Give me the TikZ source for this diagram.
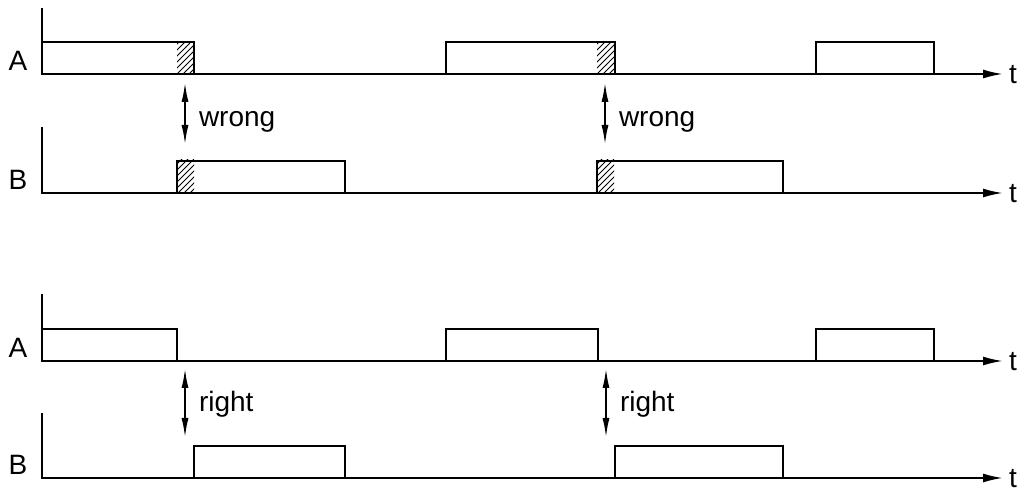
\documentclass[tikz,border=0pt]{standalone}
\usepackage{fontspec}
\setmainfont{Liberation Sans}
\usetikzlibrary{positioning,patterns,arrows.meta}

\tikzset{
  axis/.style={-{Latex[length=10pt,width=4.5pt]}},
  signal/.style={line width=1pt},
  gap/.style={{Latex[length=10pt,width=3.5pt]}-{Latex[length=10pt,width=3.5pt]}},
  hatch/.style={pattern=north east lines, draw=none},
}

\begin{document}
\begin{tikzpicture}[x=0.5pt, y=-0.5pt, line width=1pt, font=\fontsize{14}{16}\selectfont]
\useasboundingbox (0,0) rectangle (1025,491);

% Time axes
\foreach \name/\ybase/\ytop/\sig in {ta/74/8/A, tb/193/127/B, ba/361/294/A, bb/478/413/B} {
  \coordinate (\name-top) at (42,\ytop);
  \coordinate (\name-o) at (42,\ybase);
  \coordinate (\name-end) at (1003,\ybase);
  \draw[axis] (\name-top) -- (\name-o) -- (\name-end);

  % Signal label
  \node[anchor=base, inner sep=0pt] (\name-lbl) at (18,\ybase-3) {\sig};

  % Time label
  \node[anchor=base west, inner sep=0pt] (\name-t) at (1008,\ybase+10) {t};
}

% Hatched overlap
\foreach \x/\y in {177/42, 597/42, 177/160, 597/160} {
  \fill[hatch] (\x,\y) rectangle (\x+17,\y+32);
}

% Pulses
\foreach \x/\xx/\ybase in {
    42/194/74, 446/615/74, 816/934/74,
    177/345/193, 597/783/193,
    42/177/361, 446/598/361, 816/934/361,
    194/345/478, 615/783/478
  }
{
  \draw[signal] (\x,\ybase) -- (\x,\ybase-32) -- (\xx,\ybase-32) -- (\xx,\ybase);
}

% Gaps between A and B
\foreach \name/\x/\ya/\yb/\word/\yw in {
    w1/185/82/145/wrong/127, w2/605/82/145/wrong/127,
    r1/185/368/438/right/412, r2/606/368/438/right/412
  }
{
  \coordinate (\name-a) at (\x,\ya);
  \coordinate (\name-b) at (\x,\yb);
  \draw[gap] (\name-a) -- (\name-b);
  \node[anchor=base west, inner sep=0pt] (\name-lbl) at (\x+13,\yw) {\word};
}

\end{tikzpicture}
\end{document}
